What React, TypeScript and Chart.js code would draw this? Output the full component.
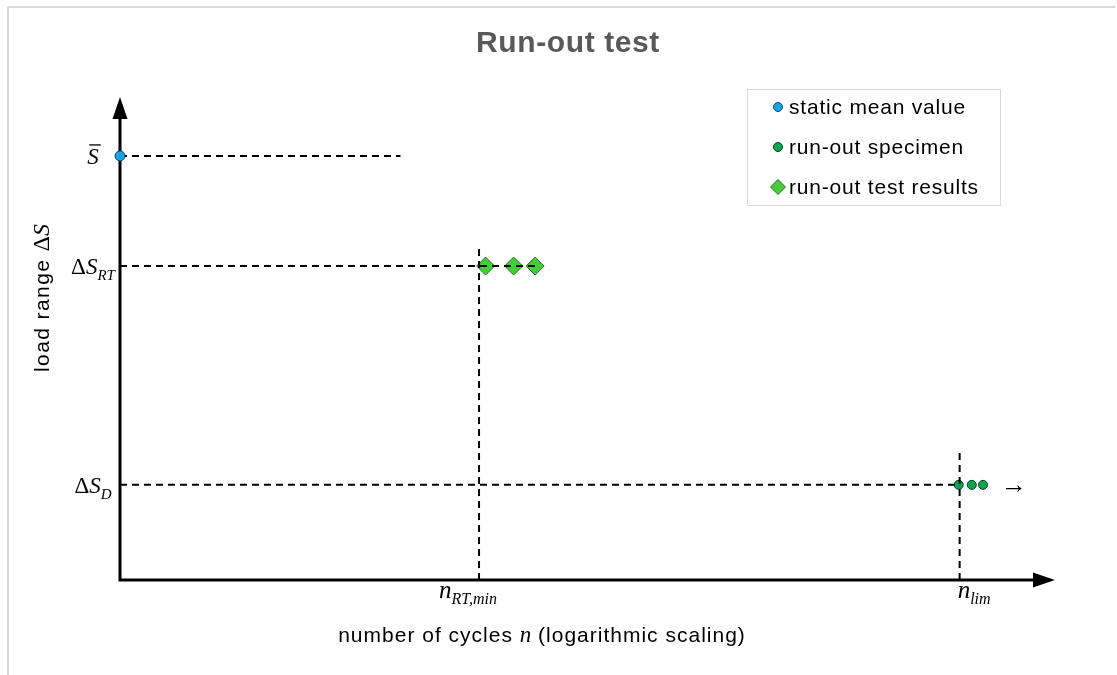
import React, { useEffect, useRef } from "react";
import { Chart, registerables } from "chart.js";

Chart.register(...registerables);

// ---------------- data ----------------
const chartTitle = "Run-out test";
const legendLabels = ["static mean value", "run-out specimen", "run-out test results"];

// x is log(n) on an arbitrary 0..100 scale, y is load range on 0..100
const xTickValues = [38.4, 89.8];
const xTickMain = ["n", "n"];
const xTickSub = ["RT,min", "lim"];

const yTickValues = [87.8, 65.0, 19.7];
const yTickPrefix = ["", "Δ", "Δ"];
const yTickMain = ["S", "S", "S"];
const yTickSub = ["", "RT", "D"];
const yTickOverline = [true, false, false];

const staticMeanX = [0];
const staticMeanY = [87.8];

const specimenX = [89.7, 91.1, 92.3];
const specimenY = [19.7, 19.7, 19.7];

const resultsX = [39.1, 42.1, 44.4];
const resultsY = [65.0, 65.0, 65.0];

// dashed guide lines: [x0, y0, x1, y1]
const guideMean = [0, 87.8, 30.0, 87.8];
const guideRT = [0, 65.0, 44.9, 65.0];
const guideD = [0, 19.7, 89.8, 19.7];
const guideRTv = [38.4, 0, 38.4, 69.4];
const guideLimV = [89.8, 0, 89.8, 26.5];

const xAxisTitle = ["number of cycles ", "n", " (logarithmic scaling)"];
const yAxisTitle = ["load range ", "Δ", "S"];

// ---------------- styles ----------------
const SANS = "'Liberation Sans', Arial, sans-serif";
const SERIF = "'Liberation Serif', 'Times New Roman', serif";
const BLUE = "#1ba3e6";
const BLUE_EDGE = "#0d4a6b";
const GREEN = "#0aa651";
const GREEN_EDGE = "#0b3a1e";
const LGREEN = "#44cc3a";
const LGREEN_EDGE = "#2a6a1c";

type Part = { t: string; font: string; dy?: number; ls?: string };

function measureParts(ctx: CanvasRenderingContext2D, parts: Part[]) {
  let w = 0;
  for (const p of parts) {
    ctx.font = p.font;
    (ctx as any).letterSpacing = p.ls || "0px";
    w += ctx.measureText(p.t).width;
  }
  (ctx as any).letterSpacing = "0px";
  return w;
}

function drawParts(ctx: CanvasRenderingContext2D, parts: Part[], x: number, y: number) {
  let cx = x;
  const pos: number[] = [];
  for (const p of parts) {
    ctx.font = p.font;
    (ctx as any).letterSpacing = p.ls || "0px";
    pos.push(cx);
    ctx.fillText(p.t, cx, y + (p.dy || 0));
    cx += ctx.measureText(p.t).width;
  }
  (ctx as any).letterSpacing = "0px";
  return pos;
}

function guideData(g: number[]) {
  return [
    { x: g[0], y: g[1] },
    { x: g[2], y: g[3] },
  ];
}

const decorPlugin = {
  id: "decor",
  beforeDatasetsDraw(chart: any) {
    const ctx: CanvasRenderingContext2D = chart.ctx;
    const { left, right, top, bottom } = chart.chartArea;
    ctx.save();
    // outer frame (partially visible)
    ctx.strokeStyle = "#d9d9d9";
    ctx.lineWidth = 2;
    ctx.beginPath();
    ctx.moveTo(8, 680);
    ctx.lineTo(8, 7);
    ctx.lineTo(1115, 7);
    ctx.stroke();

    // axes with arrow heads
    ctx.strokeStyle = "#000";
    ctx.fillStyle = "#000";
    ctx.lineWidth = 3;
    ctx.beginPath();
    ctx.moveTo(left, bottom + 1.5);
    ctx.lineTo(left, top + 20);
    ctx.moveTo(left - 1.5, bottom);
    ctx.lineTo(right - 20, bottom);
    ctx.stroke();
    ctx.beginPath();
    ctx.moveTo(left, top);
    ctx.lineTo(left - 7.5, top + 22);
    ctx.lineTo(left + 7.5, top + 22);
    ctx.closePath();
    ctx.fill();
    ctx.beginPath();
    ctx.moveTo(right, bottom);
    ctx.lineTo(right - 22, bottom - 7.5);
    ctx.lineTo(right - 22, bottom + 7.5);
    ctx.closePath();
    ctx.fill();
    ctx.restore();
  },
  afterDraw(chart: any) {
    const ctx: CanvasRenderingContext2D = chart.ctx;
    const xs = chart.scales.x;
    const ys = chart.scales.y;
    const { left, bottom } = chart.chartArea;
    ctx.save();
    ctx.textBaseline = "alphabetic";

    // title
    ctx.fillStyle = "#595959";
    ctx.font = `bold 30px ${SANS}`;
    (ctx as any).letterSpacing = "0.6px";
    ctx.textAlign = "center";
    ctx.fillText(chartTitle, 568, 52);
    (ctx as any).letterSpacing = "0px";
    ctx.textAlign = "left";

    ctx.fillStyle = "#000";
    // y tick labels (centered left of the axis)
    yTickValues.forEach((v, i) => {
      const py = ys.getPixelForValue(v);
      const parts: Part[] = [];
      if (yTickPrefix[i]) parts.push({ t: yTickPrefix[i], font: `23px ${SERIF}` });
      parts.push({ t: yTickMain[i], font: `italic 23px ${SERIF}` });
      if (yTickSub[i]) parts.push({ t: yTickSub[i], font: `italic 15px ${SERIF}`, dy: 6 });
      const w = measureParts(ctx, parts);
      const x0 = left - 27 - w / 2;
      const pos = drawParts(ctx, parts, x0, py + 8);
      if (yTickOverline[i]) {
        ctx.font = `italic 23px ${SERIF}`;
        const sw = ctx.measureText(yTickMain[i]).width;
        ctx.lineWidth = 1.3;
        ctx.strokeStyle = "#000";
        ctx.beginPath();
        ctx.moveTo(pos[pos.length - 1] + 2, py - 11);
        ctx.lineTo(pos[pos.length - 1] + sw + 2, py - 11);
        ctx.stroke();
      }
    });

    // x tick labels
    const xOffsets = [-40, -2];
    xTickValues.forEach((v, i) => {
      const px = xs.getPixelForValue(v);
      const parts: Part[] = [
        { t: xTickMain[i], font: `italic 25px ${SERIF}` },
        { t: xTickSub[i], font: `italic 16px ${SERIF}`, dy: 6 },
      ];
      drawParts(ctx, parts, px + xOffsets[i], bottom + 18);
    });

    // x axis title
    const xt: Part[] = [
      { t: xAxisTitle[0], font: `21px ${SANS}`, ls: "1px" },
      { t: xAxisTitle[1], font: `italic 23px ${SERIF}` },
      { t: xAxisTitle[2], font: `21px ${SANS}`, ls: "1px" },
    ];
    const xtw = measureParts(ctx, xt);
    drawParts(ctx, xt, 542 - xtw / 2, 642);

    // y axis title (rotated)
    const yt: Part[] = [
      { t: yAxisTitle[0], font: `21px ${SANS}`, ls: "1.4px" },
      { t: yAxisTitle[1], font: `24px ${SERIF}` },
      { t: yAxisTitle[2], font: `italic 24px ${SERIF}` },
    ];
    const ytw = measureParts(ctx, yt);
    ctx.save();
    ctx.translate(49, 298);
    ctx.rotate(-Math.PI / 2);
    drawParts(ctx, yt, -ytw / 2, 0);
    ctx.restore();

    // continuation arrow after run-out specimens
    ctx.font = `26px ${SERIF}`;
    ctx.textBaseline = "middle";
    ctx.fillText("→", xs.getPixelForValue(specimenX[specimenX.length - 1]) + 18, ys.getPixelForValue(specimenY[0]) + 1);

    // legend
    ctx.strokeStyle = "#d9d9d9";
    ctx.lineWidth = 1;
    ctx.strokeRect(747.5, 89.5, 253, 116);
    const rowsY = [107, 147, 187];
    const mx = 778;
    ctx.lineWidth = 1;
    // marker 1
    ctx.beginPath();
    ctx.arc(mx, rowsY[0], 4.5, 0, Math.PI * 2);
    ctx.fillStyle = BLUE;
    ctx.fill();
    ctx.strokeStyle = BLUE_EDGE;
    ctx.stroke();
    // marker 2
    ctx.beginPath();
    ctx.arc(mx, rowsY[1], 4.5, 0, Math.PI * 2);
    ctx.fillStyle = GREEN;
    ctx.fill();
    ctx.strokeStyle = GREEN_EDGE;
    ctx.stroke();
    // marker 3
    ctx.beginPath();
    ctx.moveTo(mx, rowsY[2] - 7.5);
    ctx.lineTo(mx + 7.5, rowsY[2]);
    ctx.lineTo(mx, rowsY[2] + 7.5);
    ctx.lineTo(mx - 7.5, rowsY[2]);
    ctx.closePath();
    ctx.fillStyle = LGREEN;
    ctx.fill();
    ctx.strokeStyle = LGREEN_EDGE;
    ctx.stroke();

    ctx.fillStyle = "#000";
    ctx.font = `21px ${SANS}`;
    (ctx as any).letterSpacing = "0.8px";
    ctx.textBaseline = "middle";
    legendLabels.forEach((l, i) => ctx.fillText(l, 789, rowsY[i] + 1));
    (ctx as any).letterSpacing = "0px";
    ctx.restore();
  },
};

export default function App() {
  const ref = useRef<HTMLCanvasElement | null>(null);

  useEffect(() => {
    if (!ref.current) return;
    const dashed = (g: number[], order: number) => ({
      type: "scatter" as const,
      data: guideData(g),
      showLine: true,
      borderColor: "#000",
      borderWidth: 2,
      borderDash: [7, 5],
      pointRadius: 0,
      pointHoverRadius: 0,
      fill: false,
      clip: false as any,
      order,
    });
    const chart = new Chart(ref.current, {
      type: "scatter",
      data: {
        datasets: [
          {
            label: legendLabels[0],
            data: staticMeanX.map((x, i) => ({ x, y: staticMeanY[i] })),
            pointStyle: "circle",
            pointRadius: 5,
            backgroundColor: BLUE,
            borderColor: BLUE_EDGE,
            borderWidth: 1,
            clip: false as any,
            order: 0,
          },
          dashed(guideMean, 1),
          dashed(guideRT, 1),
          dashed(guideD, 1),
          dashed(guideRTv, 1),
          dashed(guideLimV, 1),
          {
            label: legendLabels[1],
            data: specimenX.map((x, i) => ({ x, y: specimenY[i] })),
            pointStyle: "circle",
            pointRadius: 4.5,
            backgroundColor: GREEN,
            borderColor: GREEN_EDGE,
            borderWidth: 1,
            clip: false as any,
            order: 2,
          },
          {
            label: legendLabels[2],
            data: resultsX.map((x, i) => ({ x, y: resultsY[i] })),
            pointStyle: "rectRot",
            pointRadius: 9,
            backgroundColor: LGREEN,
            borderColor: LGREEN_EDGE,
            borderWidth: 1,
            clip: false as any,
            order: 2,
          },
        ] as any,
      },
      options: {
        animation: false,
        responsive: false,
        devicePixelRatio: 1,
        layout: { padding: { left: 120, right: 62, top: 97, bottom: 95 } },
        plugins: {
          legend: { display: false },
          title: { display: false },
          tooltip: { enabled: false },
        },
        events: [],
        scales: {
          x: { type: "linear", min: 0, max: 100, display: false },
          y: { type: "linear", min: 0, max: 100, display: false },
        },
      },
      plugins: [decorPlugin],
    });
    return () => chart.destroy();
  }, []);

  return (
    <div style={{ position: "absolute", left: 0, top: 0, width: 1117, height: 675, background: "#fff" }}>
      <canvas ref={ref} width={1117} height={675} style={{ display: "block" }} />
    </div>
  );
}
